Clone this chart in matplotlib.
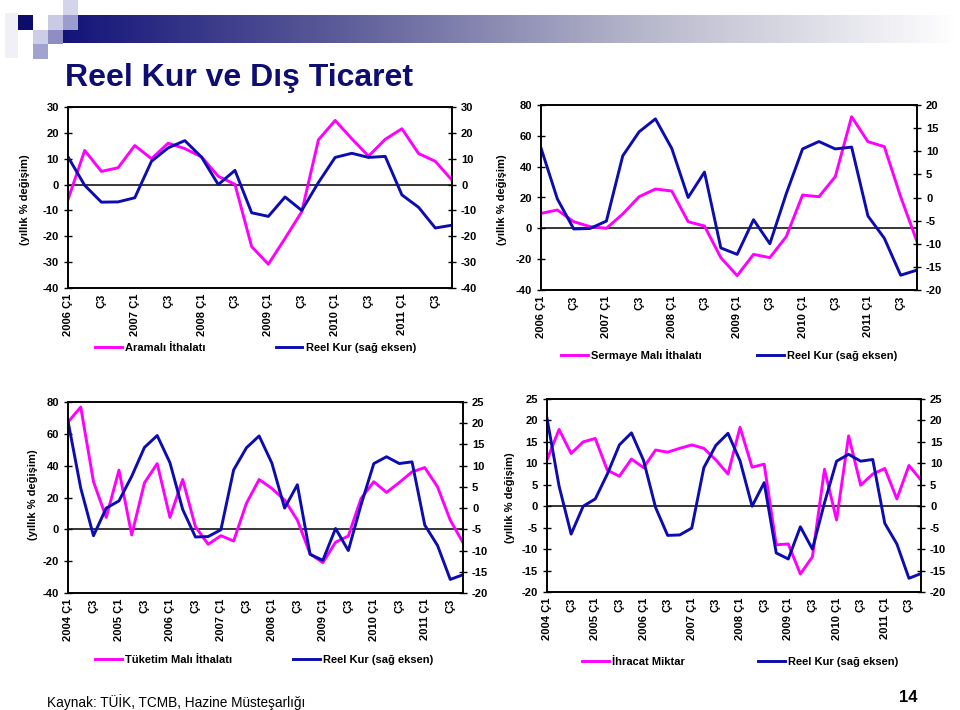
#!/usr/bin/env python3
# Slajd "Reel Kur ve Dış Ticaret" - cztery wykresy z dwiema osiami.
import matplotlib
matplotlib.use("Agg")
import numpy as np
import matplotlib.pyplot as plt
from matplotlib.colors import LinearSegmentedColormap
from matplotlib.patches import Rectangle

plt.rcParams['font.family'] = ['Liberation Sans', 'DejaVu Sans']
plt.rcParams['axes.unicode_minus'] = False

W, H = 960, 710
MAGENTA = "#ff00ff"
BLUE = "#0c0cb0"
NAVY = "#0d0d72"

# lata na osi X
years_short = [2006, 2007, 2008, 2009, 2010, 2011]
years_long = [2004, 2005, 2006, 2007, 2008, 2009, 2010, 2011]

# Reel Kur (yıllık % değişim), 2004 Ç1 - 2011 Ç4
reel_kur = [20.5, 4.7, -6.5, 0.0, 1.7, 7.5, 14.3, 17.1,
            10.7, -0.3, -6.8, -6.7, -5.1, 9.0, 14.2, 17.0,
            10.6, 0.0, 5.5, -10.9, -12.3, -4.8, -10.0, 0.8,
            10.5, 12.1, 10.5, 10.9, -4.0, -8.8, -16.8, -15.7]

# Aramalı İthalatı, 2006 Ç1 - 2011 Ç4
aramali = [-5.8, 13.2, 5.1, 6.5, 15.1, 10.0, 16.0, 13.9,
           10.7, 3.2, 0.1, -24.0, -30.8, -20.8, -10.5, 17.3,
           24.8, 17.7, 11.0, 17.5, 21.6, 12.0, 9.0, 1.7]

# Sermaye Malı İthalatı, 2006 Ç1 - 2011 Ç4
sermaye = [9.7, 11.9, 4.3, 1.1, 0.0, 9.3, 20.5, 25.5,
           24.2, 4.3, 1.5, -19.0, -30.7, -16.9, -19.0, -5.4,
           21.6, 20.5, 33.5, 72.4, 56.2, 53.0, 20.5, -8.6]

# Tüketim Malı İthalatı, 2004 Ç1 - 2011 Ç4
tuketim = [67.4, 76.8, 29.9, 7.5, 37.2, -3.5, 29.2, 41.3,
           7.5, 31.3, 1.7, -9.4, -4.0, -7.3, 16.3, 31.3,
           25.7, 18.4, 5.8, -15.4, -20.9, -8.1, -4.2, 19.4,
           29.9, 23.2, 29.4, 36.1, 38.8, 26.7, 5.8, -8.4]

# İhracat Miktar, 2004 Ç1 - 2011 Ç4
ihracat = [10.8, 17.9, 12.3, 15.0, 15.8, 8.4, 7.0, 11.0,
           9.0, 13.1, 12.6, 13.5, 14.3, 13.5, 10.8, 7.5,
           18.4, 9.1, 9.8, -9.0, -8.8, -15.8, -11.8, 8.6,
           -3.2, 16.4, 4.9, 7.5, 8.8, 1.7, 9.5, 6.1]


def quarter_ticks(years):
    # Etykiety co dwa kwartały: "2006 Ç1", "Ç3", ...
    labels = []
    for y in years:
        labels += [f"{y} Ç1", "Ç3"]
    return labels


def px_rect(left, top, right, bottom):
    # Zamiana prostokąta w pikselach na współrzędne figury.
    return [left / W, 1 - bottom / H, (right - left) / W, (bottom - top) / H]


def draw_panel(fig, rect, years, left_vals, right_vals, left_ticks, right_ticks,
               left_name, ylabel_xy, legend_xy, col_gap):
    ax = fig.add_axes(px_rect(*rect))
    x = np.arange(len(left_vals))
    ax.axhline(0, color="black", lw=1.1, zorder=1)
    l1, = ax.plot(x, left_vals, color=MAGENTA, lw=2.1, zorder=2)
    ax.set_ylim(left_ticks[0], left_ticks[-1])
    ax.set_yticks(left_ticks)
    ax.set_xlim(0, len(left_vals) - 1)
    ax.set_xticks(np.arange(0, len(left_vals), 2))
    ax.set_xticklabels(quarter_ticks(years), rotation=90)
    ax.tick_params(axis="x", length=0, pad=4)
    ax.tick_params(axis="y", direction="inout", length=6, width=1)

    ax2 = ax.twinx()
    l2, = ax2.plot(x, right_vals, color=BLUE, lw=2.1)
    ax2.set_ylim(right_ticks[0], right_ticks[-1])
    ax2.set_yticks(right_ticks)
    ax2.tick_params(axis="y", direction="inout", length=6, width=1)

    for a in (ax, ax2):
        for s in a.spines.values():
            s.set_linewidth(1.2)
        for t in a.get_xticklabels() + a.get_yticklabels():
            t.set_fontweight("bold")
            t.set_fontsize(8)

    fig.text(ylabel_xy[0] / W, 1 - ylabel_xy[1] / H, "(yıllık % değişim)",
             rotation=90, ha="center", va="center", fontsize=8, fontweight="bold")

    # Legenda w jednym wierszu, pod wykresem.
    ax2.legend([l1, l2], [left_name, "Reel Kur (sağ eksen)"], ncol=2, loc="center left",
               bbox_to_anchor=(legend_xy[0] / W, 1 - legend_xy[1] / H),
               bbox_transform=fig.transFigure, frameon=False, borderpad=0,
               borderaxespad=0, handlelength=2.4, handletextpad=0.3,
               columnspacing=col_gap, prop={"weight": "bold", "size": 8})
    return ax, ax2


fig = plt.figure(figsize=(9.6, 7.1), dpi=100)

# Nagłówek: pasek z gradientem i kwadraty
deco = fig.add_axes([0, 0, 1, 1], zorder=-5)
deco.axis("off")
cmap = LinearSegmentedColormap.from_list(
    "bar", [(0, "#14147a"), (0.3, "#5a5a98"), (0.65, "#b8b8cc"), (1, "#ffffff")])
deco.imshow(np.linspace(0, 1, 256).reshape(1, -1), cmap=cmap, aspect="auto",
            extent=(63, 960, 43, 15))
squares = [(5, 13, 13, 45, "#f0f0f6"), (18, 15, 15, 15, "#0c0c6c"),
           (63, 0, 15, 15, "#d4d4ea"), (48, 15, 15, 15, "#cacae4"),
           (63, 15, 15, 15, "#9c9cd0"), (33, 30, 15, 14, "#cdcde6"),
           (48, 30, 15, 14, "#8e8ec4"), (33, 44, 15, 15, "#a2a2d0")]
for sx, sy, sw, sh, c in squares:
    deco.add_patch(Rectangle((sx, sy), sw, sh, color=c, lw=0))
deco.set_xlim(0, W)
deco.set_ylim(H, 0)

fig.text(65 / W, 1 - 86 / H, "Reel Kur ve Dış Ticaret", fontsize=23, fontweight="bold",
         color=NAVY, va="baseline")

draw_panel(fig, (68, 107, 452, 288), years_short, aramali, reel_kur[8:],
           list(range(-40, 31, 10)), list(range(-40, 31, 10)),
           "Aramalı İthalatı", (25, 200), (95, 348), 6.3)

draw_panel(fig, (541, 105, 917, 290), years_short, sermaye, reel_kur[8:],
           list(range(-40, 81, 20)), list(range(-20, 21, 5)),
           "Sermaye Malı İthalatı", (502, 200), (561, 355), 5.0)

draw_panel(fig, (68, 402, 463, 593), years_long, tuketim, reel_kur,
           list(range(-40, 81, 20)), list(range(-20, 26, 5)),
           "Tüketim Malı İthalatı", (33, 495), (95, 660), 5.5)

draw_panel(fig, (547, 399, 921, 592), years_long, ihracat, reel_kur,
           list(range(-20, 26, 5)), list(range(-20, 26, 5)),
           "İhracat Miktar", (510, 498), (582, 662), 6.6)

fig.text(47 / W, 1 - 702 / H, "Kaynak: TÜİK, TCMB, Hazine Müsteşarlığı",
         family=["Liberation Sans Narrow", "Liberation Sans", "DejaVu Sans"],
         fontsize=9.8, va="center")
fig.text(908 / W, 1 - 698 / H, "14", fontsize=12, fontweight="bold", ha="center", va="center")

fig.savefig("out.png", dpi=100)
